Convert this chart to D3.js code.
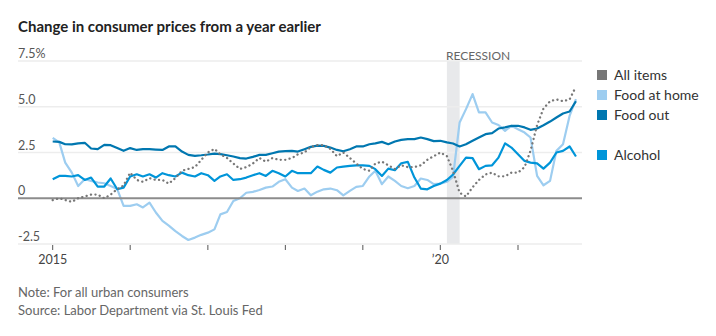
<!DOCTYPE html>
<html>
<head>
<meta charset="utf-8">
<script src="https://cdn.jsdelivr.net/npm/d3@7"></script>
<style>
  body { margin: 0; background: #fff; }
  svg { display: block; font-family: Lato, "Noto Sans", sans-serif; }
</style>
</head>
<body>
<div id="chart"></div>
<script>
// year-over-year change, %, monthly Jan 2015 - Oct 2021
var allItems = [
  -0.1, 0.0, -0.1, -0.2, 0.0, 0.1, 0.2, 0.2, 0.0, 0.2, 0.5, 0.7,
  1.4, 1.0, 0.9, 1.1, 1.0, 1.0, 0.8, 1.1, 1.5, 1.6, 1.7, 2.1,
  2.5, 2.7, 2.4, 2.2, 1.9, 1.6, 1.7, 1.9, 2.2, 2.0, 2.2, 2.1,
  2.1, 2.2, 2.4, 2.5, 2.8, 2.9, 2.9, 2.7, 2.3, 2.5, 2.2, 1.9,
  1.6, 1.5, 1.9, 2.0, 1.8, 1.6, 1.8, 1.7, 1.7, 1.8, 2.1, 2.3,
  2.5, 2.3, 1.5, 0.3, 0.1, 0.6, 1.0, 1.3, 1.4, 1.2, 1.2, 1.4,
  1.4, 1.7, 2.6, 4.0, 4.9, 5.3, 5.4, 5.3, 5.4, 6.1
];
var foodHome = [
  3.3, 3.05, 1.95, 1.4, 0.67, 1.04, 0.95, 0.86, 0.82, 0.67, 0.5, -0.42,
  -0.42, -0.33, -0.5, -0.24, -0.78, -1.24, -1.5, -1.8, -2.06, -2.28, -2.15, -2.0,
  -1.88, -1.7, -0.88, -0.75, -0.15, 0.0, 0.3, 0.35, 0.45, 0.58, 0.64, 0.9,
  1.04, 0.58, 0.4, 0.53, 0.16, 0.36, 0.49, 0.53, 0.44, 0.16, 0.4, 0.62,
  0.67, 1.19, 1.5, 0.77, 1.19, 0.95, 0.67, 0.55, 0.67, 1.08, 1.0, 0.77,
  0.8, 0.9, 1.17, 4.14, 4.87, 5.69, 4.69, 4.69, 4.14, 4.0, 3.68, 3.96,
  3.77, 3.59, 3.32, 1.22, 0.71, 0.95, 2.59, 2.95, 4.5, 5.42
];
var foodOut = [
  3.1, 3.08, 2.95, 2.94, 3.0, 3.03, 2.72, 2.68, 2.92, 2.9, 2.74, 2.59,
  2.74, 2.64, 2.68, 2.68, 2.66, 2.64, 2.83, 2.83, 2.55, 2.37, 2.32, 2.35,
  2.39, 2.44, 2.41, 2.35, 2.28, 2.19, 2.17, 2.26, 2.37, 2.37, 2.46, 2.55,
  2.57, 2.59, 2.55, 2.68, 2.81, 2.88, 2.86, 2.77, 2.64, 2.57, 2.68, 2.83,
  2.83, 2.95, 3.0, 3.08, 2.95, 3.1, 3.19, 3.23, 3.23, 3.32, 3.23, 3.12,
  3.14, 3.05, 2.99, 2.83, 2.95, 3.14, 3.32, 3.5, 3.56, 3.81, 3.87, 3.96,
  3.96, 3.87, 3.74, 3.81, 3.99, 4.19, 4.41, 4.63, 4.74, 5.3
];
var alcohol = [
  1.04, 1.22, 1.22, 1.19, 1.26, 1.0, 1.13, 0.64, 0.64, 1.08, 0.49, 0.58,
  1.19, 1.31, 1.19, 1.31, 1.13, 1.37, 1.26, 1.19, 1.4, 1.26, 1.19, 1.37,
  1.26, 0.95, 1.19, 1.31, 1.0, 1.04, 1.13, 1.26, 1.37, 1.22, 1.5, 1.37,
  1.19, 1.5, 1.37, 1.37, 1.37, 1.73, 1.55, 1.4, 1.68, 1.73, 1.77, 1.8,
  1.8, 1.77, 1.59, 1.22, 1.62, 1.53, 1.91, 1.99, 1.13, 0.53, 0.49, 0.67,
  0.8, 1.0, 1.3, 1.77, 2.22, 2.19, 1.59, 1.77, 1.8, 2.22, 3.0, 2.77,
  2.4, 2.04, 1.95, 1.91, 1.62, 1.95, 2.5, 2.59, 2.83, 2.28
];
var yTicks = [-2.5, 0, 2.5, 5.0, 7.5];
var yTickLabels = ["-2.5", "0", "2.5", "5.0", "7.5%"];
var xTickYears = [2015, 2016, 2017, 2018, 2019, 2020, 2021];
var xTickLabels = {2015: "2015", 2020: "\u201920"};
var recession = [new Date(2020, 1, 1), new Date(2020, 3, 1)];
var legendNames = ["All items", "Food at home", "Food out", "Alcohol"];
var legendColors = ["#777777", "#9dcdf0", "#0077b0", "#0095d9"];

var months = d3.timeMonth.range(new Date(2015, 0, 1), new Date(2021, 10, 1));

var W = 716, H = 336;
var svg = d3.select("#chart").append("svg")
    .attr("width", W)
    .attr("height", H);

var x = d3.scaleTime()
    .domain([new Date(2015, 0, 1), new Date(2021, 0, 1)])
    .range([52.7, 518]);
var y = d3.scaleLinear()
    .domain([-2.5, 7.5])
    .range([244, 61]);

// title
svg.append("text")
    .attr("x", 18).attr("y", 32)
    .attr("font-size", 15).attr("font-weight", 700)
    .attr("fill", "#222")
    .text("Change in consumer prices from a year earlier");

// recession band
svg.append("rect")
    .attr("x", x(recession[0]))
    .attr("y", y(7.5))
    .attr("width", x(recession[1]) - x(recession[0]))
    .attr("height", y(-2.5) - y(7.5))
    .attr("fill", "#e8e9eb");
svg.append("text")
    .attr("x", x(recession[0]) - 1).attr("y", 60)
    .attr("font-size", 12).attr("fill", "#666")
    .text("RECESSION");

// grid
svg.selectAll(".grid")
    .data(yTicks.filter(function(d){ return d !== 0; }))
    .enter().append("line")
    .attr("x1", 18).attr("x2", 582)
    .attr("y1", function(d){ return y(d); })
    .attr("y2", function(d){ return y(d); })
    .attr("stroke", "#ededed")
    .attr("stroke-width", 1.5);

svg.selectAll(".ylab")
    .data(yTicks)
    .enter().append("text")
    .attr("x", 18)
    .attr("y", function(d){ return y(d) - 3; })
    .attr("font-size", 12.5).attr("fill", "#555")
    .text(function(d, i){ return yTickLabels[i]; });

// x ticks
var yearDates = xTickYears.map(function(yr){ return new Date(yr, 0, 1); });
svg.selectAll(".xtick")
    .data(yearDates)
    .enter().append("line")
    .attr("x1", function(d){ return x(d); })
    .attr("x2", function(d){ return x(d); })
    .attr("y1", 245).attr("y2", 250)
    .attr("stroke", "#555").attr("stroke-width", 1);
svg.selectAll(".xlab")
    .data(yearDates.filter(function(d){ return xTickLabels[d.getFullYear()]; }))
    .enter().append("text")
    .attr("x", function(d){ return x(d); })
    .attr("y", 264)
    .attr("text-anchor", "middle")
    .attr("font-size", 12.5).attr("fill", "#444")
    .text(function(d){ return xTickLabels[d.getFullYear()]; });

// lines
var line = d3.line()
    .x(function(d, i){ return x(months[i]); })
    .y(function(d){ return y(d); });

function drawSeries(values, color, dotted) {
    var p = svg.append("path")
        .datum(values)
        .attr("d", line)
        .attr("fill", "none")
        .attr("stroke", color)
        .attr("stroke-linejoin", "round");
    if (dotted) {
        p.attr("stroke-width", 2.3)
         .attr("stroke-dasharray", "0.1,4.4")
         .attr("stroke-linecap", "round");
    } else {
        p.attr("stroke-width", 2.2);
    }
}

drawSeries(foodHome, legendColors[1], false);
drawSeries(foodOut, legendColors[2], false);
drawSeries(alcohol, legendColors[3], false);

// zero line
svg.append("line")
    .attr("x1", 18).attr("x2", 582)
    .attr("y1", y(0)).attr("y2", y(0))
    .attr("stroke", "#8c8c8c")
    .attr("stroke-width", 2);

drawSeries(allItems, legendColors[0], true);

// legend
var legendY = [75, 95, 115, 155];
var lg = svg.selectAll(".leg")
    .data(legendNames)
    .enter().append("g")
    .attr("transform", function(d, i){ return "translate(597," + legendY[i] + ")"; });
lg.append("rect")
    .attr("x", 0).attr("y", -5)
    .attr("width", 10).attr("height", 10)
    .attr("fill", function(d, i){ return legendColors[i]; });
lg.append("text")
    .attr("x", 17).attr("y", 5)
    .attr("font-size", 14).attr("fill", "#333")
    .text(function(d){ return d; });

// notes
svg.append("text")
    .attr("x", 18).attr("y", 297)
    .attr("font-size", 13).attr("fill", "#666")
    .text("Note: For all urban consumers");
svg.append("text")
    .attr("x", 18).attr("y", 315)
    .attr("font-size", 13).attr("fill", "#666")
    .text("Source: Labor Department via St. Louis Fed");
</script>
</body>
</html>
